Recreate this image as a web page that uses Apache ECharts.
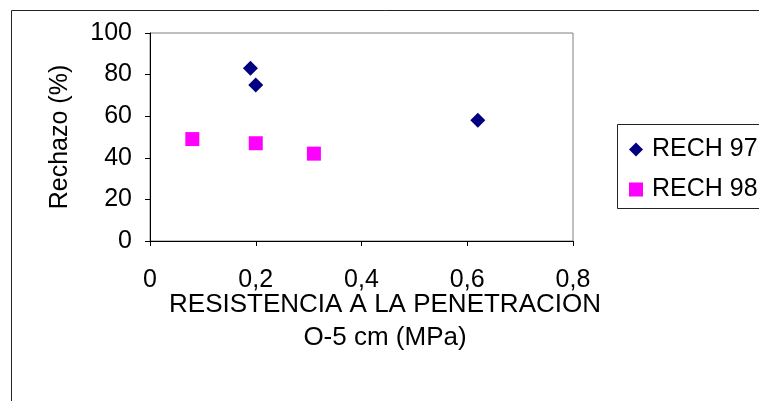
<!DOCTYPE html>
<html>
<head>
<meta charset="utf-8">
<script src="https://cdn.jsdelivr.net/npm/echarts@6/dist/echarts.min.js"></script>
<style>html,body{margin:0;padding:0;background:#fff;}#c{width:759px;height:401px;}</style>
</head>
<body>
<div id="c"></div>
<script>
const seriesNames = ['RECH 97', 'RECH 98'];
const rech97 = [[0.19, 83], [0.20, 75], [0.62, 58]];
const rech98 = [[0.08, 49], [0.20, 47], [0.31, 42]];
const xTicks = [0, 0.2, 0.4, 0.6, 0.8];
const yTicks = [0, 20, 40, 60, 80, 100];
const xTitle = 'RESISTENCIA A LA PENETRACION\nO-5 cm (MPa)';
const yTitle = 'Rechazo (%)';

const FONT = 'Liberation Sans, Arial, sans-serif';
const FS = 25;
const chart = echarts.init(document.getElementById('c'), null, {renderer: 'canvas'});
chart.setOption({
  animation: false,
  backgroundColor: '#fff',
  textStyle: {fontFamily: FONT, color: '#000'},
  grid: {left: 150, top: 33, right: 186, bottom: 160, show: true, borderColor: '#808080', borderWidth: 1, containLabel: false},
  graphic: [
    {type: 'rect', shape: {x: 11.5, y: 10.5, width: 900, height: 500}, style: {fill: 'none', stroke: '#222', lineWidth: 1}, silent: true, z: -1},
    {type: 'rect', shape: {x: 617.5, y: 124.5, width: 200, height: 84}, style: {fill: '#fff', stroke: '#222', lineWidth: 1}, silent: true, z: 0}
  ],
  xAxis: {
    type: 'value', min: xTicks[0], max: xTicks[xTicks.length - 1], interval: 0.2,
    name: xTitle, nameLocation: 'middle', nameGap: 47, nameMoveOverlap: false,
    nameTextStyle: {fontSize: 26, fontFamily: FONT, color: '#000', lineHeight: 33, padding: [0, 0, 0, 47]},
    axisLine: {show: true, onZero: false, lineStyle: {color: '#000', width: 1}},
    axisTick: {show: true, length: 5, lineStyle: {color: '#000'}},
    axisLabel: {fontSize: FS, fontFamily: FONT, color: '#000', margin: 27,
      formatter: v => String(Math.round(v * 10) / 10).replace('.', ',')},
    splitLine: {show: false}
  },
  yAxis: {
    type: 'value', min: yTicks[0], max: yTicks[yTicks.length - 1], interval: 20,
    name: yTitle, nameLocation: 'middle', nameGap: 77, nameRotate: 90, nameMoveOverlap: false,
    nameTextStyle: {fontSize: FS, fontFamily: FONT, color: '#000'},
    axisLine: {show: true, onZero: false, lineStyle: {color: '#000', width: 1}},
    axisTick: {show: true, length: 5, lineStyle: {color: '#000'}},
    axisLabel: {fontSize: FS, fontFamily: FONT, color: '#000', margin: 18},
    splitLine: {show: false}
  },
  legend: {
    orient: 'vertical', left: 624, top: 132, itemGap: 15, itemWidth: 14, itemHeight: 14,
    textStyle: {fontSize: FS, fontFamily: FONT, color: '#000', padding: [0, 0, 0, 4]},
    data: [{name: seriesNames[0], icon: 'diamond'}, {name: seriesNames[1], icon: 'rect'}],
    z: 5
  },
  series: [
    {name: seriesNames[0], type: 'scatter', symbol: 'diamond', symbolSize: 15, data: rech97, itemStyle: {color: '#000080', opacity: 1}},
    {name: seriesNames[1], type: 'scatter', symbol: 'rect', symbolSize: 14, data: rech98, itemStyle: {color: '#FF00FF', opacity: 1}}
  ]
});
</script>
</body>
</html>
